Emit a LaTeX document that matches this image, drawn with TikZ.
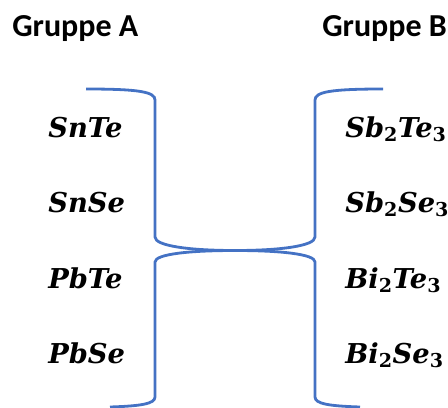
\documentclass[tikz,border=0pt]{standalone}
\usepackage{fontspec}
\usepackage{tikz}
\usetikzlibrary{positioning}
\newfontfamily\headfont{Carlito}
\newfontfamily\formfont{DejaVu Serif}
\definecolor{brblue}{HTML}{4472C4}
\newcommand{\sub}[1]{\textsubscript{\upshape #1}}

\begin{document}
\begin{tikzpicture}[
  x=0.75pt, y=-0.75pt,
  head/.style={anchor=base west, inner sep=0pt,
               font=\headfont\bfseries\fontsize{24}{28}\selectfont},
  formula/.style={anchor=base west, inner sep=0pt,
                  font=\formfont\bfseries\itshape\fontsize{20.5}{24}\selectfont},
  bracket/.style={draw=brblue, line width=2.1pt},
]
\useasboundingbox (0,0) rectangle (448,407);

% Headings
\node[head] (grpA) at (12, 36) {Gruppe A};
\node[head] (grpB) at (322, 36) {Gruppe B};

% Left column
\node[formula] (snte) at (48, 137) {SnTe};
\node[formula] (snse) at (48, 212) {SnSe};
\node[formula] (pbte) at (48, 288) {PbTe};
\node[formula] (pbse) at (48, 363) {PbSe};

% Right column
\node[formula] (sbte) at (345, 137) {Sb\sub{2}Te\sub{3}};
\node[formula] (sbse) at (345, 212) {Sb\sub{2}Se\sub{3}};
\node[formula] (bite) at (345, 288) {Bi\sub{2}Te\sub{3}};
\node[formula] (bise) at (345, 363) {Bi\sub{2}Se\sub{3}};

% Joint of the brackets
\coordinate (mid) at (235, 250.5);

% Upper brackets
\draw[bracket] (86,89) .. controls (140,89) and (155,92) .. (155,100)
  -- (155,237) .. controls (155,246) and (190,250.5) .. (mid);
\draw[bracket] (383,89) .. controls (330,89) and (315,92) .. (315,100)
  -- (315,237) .. controls (315,246) and (280,250.5) .. (mid);

% Lower brackets
\draw[bracket] (mid) .. controls (190,250.5) and (155,254) .. (155,262)
  -- (155,397) .. controls (155,404) and (140,406) .. (110,407);
\draw[bracket] (mid) .. controls (280,250.5) and (315,254) .. (315,262)
  -- (315,397) .. controls (315,404) and (330,406) .. (360,407);

\end{tikzpicture}
\end{document}
